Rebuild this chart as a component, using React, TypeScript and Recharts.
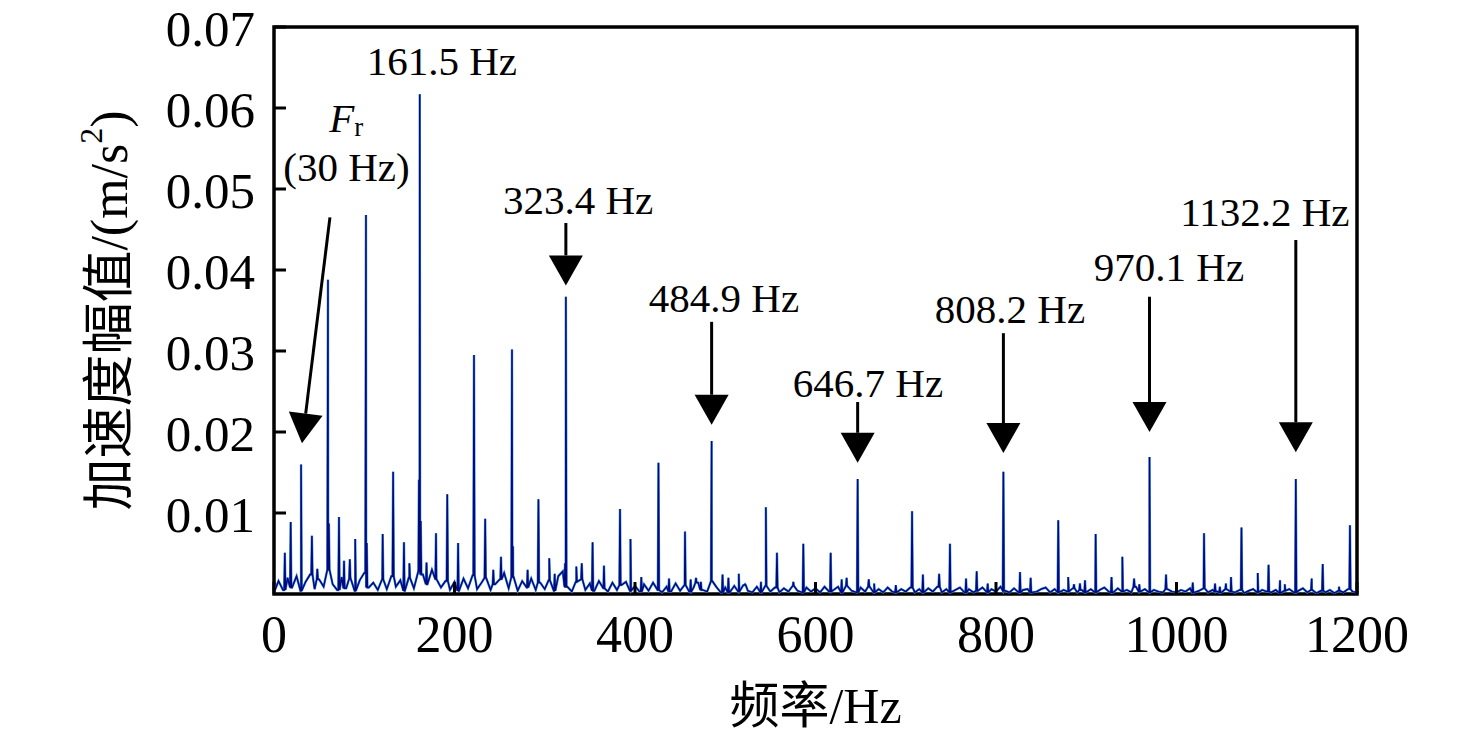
import { LineChart, Line, XAxis, YAxis, ReferenceArea, ReferenceLine, ReferenceDot } from 'recharts'

const FONT = '"Times New Roman", "Liberation Serif", "Noto Sans CJK SC", serif'

// noise floor, one value every 5 Hz, in units of 1e-4 m/s^2
const NOISE_STEP = 5
const NOISE = [
  2, 16, 5, 20, 8, 22, 4, 15, 24, 6, 18, 9, 30, 12, 5, 21, 7, 19, 4, 17,
  26, 8, 14, 5, 18, 6, 22, 9, 17, 4, 20, 7, 28, 24, 12, 30, 18, 8, 16, 5,
  15, 4, 19, 7, 23, 6, 14, 20, 5, 12, 18, 26, 7, 21, 4, 16, 8, 19, 5, 14,
  6, 17, 4, 22, 28, 9, 3, 15, 18, 5, 13, 4, 16, 7, 3, 14, 5, 11, 15, 4,
  10, 3, 12, 4, 14, 5, 2, 9, 3, 13, 4, 11, 3, 8, 14, 5, 3, 16, 9, 2,
  8, 2, 10, 3, 11, 4, 2, 9, 2, 10, 3, 8, 2, 7, 3, 10, 4, 2, 8, 3,
  7, 2, 9, 3, 5, 9, 2, 10, 4, 2, 8, 3, 9, 2, 6, 2, 8, 3, 2, 6,
  3, 8, 2, 6, 2, 7, 3, 9, 2, 6, 2, 5, 8, 2, 6, 2, 4, 8, 2, 6,
  3, 9, 4, 2, 7, 2, 5, 6, 2, 3, 6, 8, 2, 6, 2, 5, 3, 7, 2, 5,
  2, 6, 2, 5, 8, 3, 2, 7, 3, 5, 2, 9, 3, 6, 2, 5, 3, 2, 6, 3,
  2, 5, 3, 7, 2, 4, 7, 2, 5, 3, 2, 6, 3, 2, 5, 1, 4, 6, 2, 5,
  3, 2, 5, 1, 4, 6, 2, 4, 7, 2, 5, 1, 4, 2, 5, 1, 4, 2, 6, 3,
  2,
]

// spectral lines (Hz) and their amplitudes (m/s^2)
const PEAK_FREQS = [
  12, 18.5, 30, 42, 48, 59.8, 60.8, 72, 77.6, 84, 90, 101.9, 102.8, 120.4, 132, 144, 150,
  160.6, 161.5, 162.6, 169, 179.5, 192, 204, 221.6, 234, 243, 251.5, 263.7, 264.8, 281, 293,
  305, 311, 322.5, 323.4, 335, 341, 353, 365.6, 383.4, 395, 407, 426, 437.7, 455.4, 461.7,
  467.6, 473, 484.9, 497, 503.5, 515, 522, 539.6, 545, 557.3, 575.4, 586.5, 616.8, 629,
  634.5, 646.7, 659, 665, 689, 707, 719, 737, 749, 766.8, 778.6, 790.8, 808.2, 826.6, 838.4,
  869, 880, 886.4, 893, 898.6, 910.4, 928, 940, 953, 958.8, 970.1, 988.4, 1018, 1030.5,
  1042.7, 1048, 1054.8, 1060.4, 1072, 1090, 1102, 1114.7, 1120, 1132.2, 1149.8, 1162, 1180,
  1192.2,
]
const PEAK_AMPS = [
  0.0051, 0.0089, 0.016, 0.0072, 0.0031, 0.0388, 0.0087, 0.0095, 0.0041, 0.0043, 0.0068,
  0.0468, 0.0063, 0.0074, 0.0151, 0.0064, 0.0038, 0.0141, 0.0617, 0.009, 0.0039, 0.0075,
  0.0123, 0.0063, 0.0295, 0.0093, 0.003, 0.0046, 0.0302, 0.0059, 0.003, 0.0117, 0.0044,
  0.0025, 0.0038, 0.0367, 0.0034, 0.0038, 0.0064, 0.0035, 0.0105, 0.0068, 0.0021, 0.0162,
  0.0019, 0.0077, 0.0018, 0.002, 0.0015, 0.0189, 0.0024, 0.002, 0.0025, 0.0012, 0.0015,
  0.0107, 0.0051, 0.0015, 0.0062, 0.0051, 0.0018, 0.002, 0.0142, 0.0018, 0.0013, 0.0011,
  0.0102, 0.0024, 0.0025, 0.0062, 0.0019, 0.0028, 0.0013, 0.0151, 0.0027, 0.002, 0.0091,
  0.0021, 0.0012, 0.0013, 0.0017, 0.0074, 0.0021, 0.0046, 0.0019, 0.0012, 0.0169, 0.0024,
  0.0014, 0.0075, 0.0013, 0.0009, 0.0013, 0.0021, 0.0082, 0.0026, 0.0036, 0.0017, 0.0012,
  0.0142, 0.0019, 0.0037, 0.0009, 0.0085,
]

const X_TICKS = [0, 200, 400, 600, 800, 1000, 1200]
const Y_TICKS = [0.01, 0.02, 0.03, 0.04, 0.05, 0.06, 0.07]

// annotations: text and where it sits, arrows from [f, v] to [f, v]
const LABELS = [
  { text: '161.5 Hz', f: 186, v: 0.0658 },
  { text: '(30 Hz)', f: 80.3, v: 0.0527 },
  { text: '323.4 Hz', f: 337, v: 0.0486 },
  { text: '484.9 Hz', f: 498.6, v: 0.0365 },
  { text: '646.7 Hz', f: 658.2, v: 0.026 },
  { text: '808.2 Hz', f: 815.5, v: 0.0352 },
  { text: '970.1 Hz', f: 991.7, v: 0.0404 },
  { text: '1132.2 Hz', f: 1098, v: 0.0472 },
]
const ARROWS = [
  { from: [62, 0.0465], to: [31, 0.0186] },
  { from: [323.4, 0.0458], to: [323.4, 0.0381] },
  { from: [484.9, 0.0336], to: [484.9, 0.0209] },
  { from: [646.7, 0.0237], to: [646.7, 0.0162] },
  { from: [808.2, 0.0322], to: [808.2, 0.0174] },
  { from: [970.1, 0.0367], to: [970.1, 0.02] },
  { from: [1132.2, 0.0437], to: [1132.2, 0.0175] },
]

const rows: { f: number; v: number }[] = NOISE.map((n, i) => ({ f: i * NOISE_STEP, v: n * 1e-4 }))
PEAK_FREQS.forEach((f, i) => {
  const base = NOISE[Math.round(f / NOISE_STEP)] * 1e-4
  rows.push({ f: f - 0.7, v: base }, { f, v: PEAK_AMPS[i] }, { f: f + 0.7, v: base })
})
const data = rows.sort((a, b) => a.f - b.f)

const Arrow = (p: any) => {
  const { x1, y1, x2, y2 } = p
  const a = Math.atan2(y2 - y1, x2 - x1)
  const L = 30
  const W = 17
  const bx = x2 - L * Math.cos(a)
  const by = y2 - L * Math.sin(a)
  const px = -Math.sin(a) * W
  const py = Math.cos(a) * W
  return (
    <g>
      <line x1={x1} y1={y1} x2={bx} y2={by} stroke="#000" strokeWidth={3} />
      <polygon points={`${x2},${y2} ${bx + px},${by + py} ${bx - px},${by - py}`} fill="#000" />
    </g>
  )
}

const XTick = ({ x, y, payload }: any) => (
  <text x={x} y={y} textAnchor="middle" dominantBaseline="central" fontSize={52} fontFamily={FONT} fill="#000">
    {payload.value}
  </text>
)

const YTick = ({ x, y, payload }: any) => (
  <text x={x} y={y + 2} textAnchor="end" dominantBaseline="central" fontSize={51} fontFamily={FONT} fill="#000">
    {payload.value.toFixed(2)}
  </text>
)

const YTitle = ({ viewBox }: any) => {
  const cx = viewBox.x + 101
  const cy = viewBox.y + viewBox.height / 2
  return (
    <text x={cx} y={cy} transform={`rotate(-90 ${cx} ${cy})`} textAnchor="middle" dominantBaseline="central"
      fontSize={52} fontFamily={FONT} fill="#000">
      加速度幅值/(m/s<tspan fontSize={32} dy={-18}>2</tspan><tspan dy={18}>)</tspan>
    </text>
  )
}

const XTitle = ({ viewBox }: any) => (
  <text x={viewBox.x + viewBox.width / 2} y={viewBox.y + 112} textAnchor="middle" dominantBaseline="central"
    fontSize={50} fontFamily={FONT} fill="#000">
    频率/Hz
  </text>
)

export default function App() {
  return (
    <div style={{ marginTop: -8 }}>
      <LineChart width={1460} height={738} data={data} margin={{ top: 27, right: 111, left: 0, bottom: 8 }}>
        <XAxis type="number" dataKey="f" domain={[0, 1200]} ticks={X_TICKS} interval={0} allowDataOverflow
          height={136} axisLine={false} tickSize={-12} tickMargin={52} tickLine={{ stroke: '#000', strokeWidth: 3 }}
          tick={<XTick />} label={XTitle} />
        <YAxis type="number" domain={[0, 0.07]} ticks={Y_TICKS} interval={0} allowDataOverflow
          width={266} axisLine={false} tickSize={-12} tickMargin={31} tickLine={{ stroke: '#000', strokeWidth: 3 }}
          tick={<YTick />} label={YTitle} />
        <Line dataKey="v" type="linear" stroke="#3f8fdf" strokeWidth={2.4} dot={false} isAnimationActive={false} />
        <Line dataKey="v" type="linear" stroke="#00087c" strokeWidth={1.4} dot={false} isAnimationActive={false} />
        <ReferenceArea x1={0} x2={1200} y1={0} y2={0.07} fill="none" stroke="#000" strokeWidth={3.5} fillOpacity={0} />
        {ARROWS.map((a, i) => (
          <ReferenceLine key={i} segment={[{ x: a.from[0], y: a.from[1] }, { x: a.to[0], y: a.to[1] }]} shape={Arrow} />
        ))}
        {LABELS.map((l) => (
          <ReferenceDot key={l.text} x={l.f} y={l.v} r={0} shape={({ cx, cy }: any) => (
            <text x={cx} y={cy} textAnchor="middle" dominantBaseline="central" fontSize={41} fontFamily={FONT} fill="#000">
              {l.text}
            </text>
          )} />
        ))}
        <ReferenceDot x={80} y={0.0588} r={0} shape={({ cx, cy }: any) => (
          <text x={cx} y={cy} textAnchor="middle" dominantBaseline="central" fontSize={41} fontFamily={FONT} fill="#000">
            <tspan fontStyle="italic">F</tspan><tspan fontSize={27} dy={9}>r</tspan>
          </text>
        )} />
      </LineChart>
    </div>
  )
}
